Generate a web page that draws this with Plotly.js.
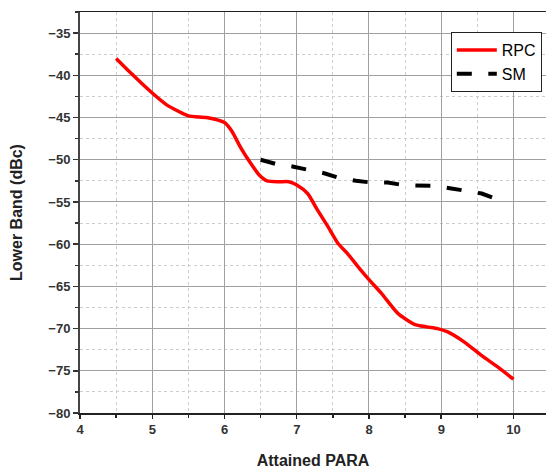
<!DOCTYPE html>
<html>
<head>
<meta charset="utf-8">
<script src="https://cdn.plot.ly/plotly-3.0.1.min.js"></script>
<style>html,body{margin:0;padding:0;background:#fff;}#chart{width:546px;height:469px;}</style>
</head>
<body>
<div id="chart"></div>
<script>
const rpcX = [4.5, 4.7, 5.0, 5.2, 5.5, 5.75, 6.0, 6.1, 6.22, 6.36, 6.48, 6.59, 6.75, 6.89, 7.0, 7.15, 7.29, 7.43, 7.57, 7.70, 7.89, 8.0, 8.17, 8.40, 8.63, 8.80, 8.95, 9.09, 9.32, 9.56, 9.79, 10.0];
const rpcY = [-38.0, -39.7, -42.1, -43.5, -44.8, -45.0, -45.6, -46.6, -48.5, -50.4, -51.8, -52.5, -52.6, -52.6, -53.0, -54.0, -56.0, -57.9, -59.9, -61.1, -63.1, -64.2, -65.8, -68.2, -69.5, -69.8, -70.0, -70.4, -71.6, -73.2, -74.6, -76.0];
const smX = [6.5, 6.71, 6.94, 7.15, 7.38, 7.57, 7.82, 8.03, 8.26, 8.47, 8.70, 8.91, 9.14, 9.35, 9.56, 9.78];
const smY = [-50.0, -50.5, -50.8, -51.2, -51.6, -52.1, -52.5, -52.7, -52.7, -53.0, -53.1, -53.1, -53.4, -53.7, -54.0, -54.7];
const seriesNames = ['RPC', 'SM'];
const xTitle = 'Attained PARA';
const yTitle = 'Lower Band (dBc)';

const tickFont = {family: 'Liberation Sans, Arial, sans-serif', size: 13, color: '#333', weight: 'bold'};
const traces = [
  {x: rpcX, y: rpcY, name: seriesNames[0], mode: 'lines', line: {color: '#ff0000', width: 3.5, shape: 'spline', smoothing: 0.6}},
  {x: smX, y: smY, name: seriesNames[1], mode: 'lines', line: {color: '#000000', width: 4, dash: '15px,16.5px'}}
];
const layout = {
  width: 546, height: 469,
  margin: {l: 80, r: 0, t: 12, b: 56},
  paper_bgcolor: '#fff', plot_bgcolor: '#fff',
  showlegend: true,
  legend: {x: 0.991, xanchor: 'right', y: 0.95, yanchor: 'top', bgcolor: '#fff', bordercolor: '#222', borderwidth: 1,
           font: {family: 'Liberation Sans, Arial, sans-serif', size: 16, color: '#000'}, tracegroupgap: 0, itemwidth: 40},
  xaxis: {
    range: [4, 10.45], tickvals: [4,5,6,7,8,9,10], ticktext: ['4','5','6','7','8','9','10'],
    showline: true, linecolor: '#222', linewidth: 1.5, mirror: true,
    ticks: 'outside', ticklen: 4, tickcolor: '#222', tickwidth: 1.5,
    showgrid: true, gridcolor: '#a0a0a0', gridwidth: 1,
    minor: {dtick: 0.5, showgrid: true, gridcolor: '#cccccc', griddash: '3px,3px', ticks: 'outside', ticklen: 3, tickcolor: '#222'},
    zeroline: false, tickfont: tickFont,
    title: {text: xTitle, font: {family: 'Liberation Sans, Arial, sans-serif', size: 16, color: '#222', weight: 'bold'}, standoff: 18}
  },
  yaxis: {
    range: [-80, -32.5], tickvals: [-80,-75,-70,-65,-60,-55,-50,-45,-40,-35],
    showline: true, linecolor: '#444', linewidth: 2,
    ticks: 'outside', ticklen: 5, tickcolor: '#333', tickwidth: 1.5,
    showgrid: true, gridcolor: '#a0a0a0', gridwidth: 1,
    minor: {dtick: 2.5, showgrid: true, gridcolor: '#cccccc', griddash: '3px,3px', ticks: 'outside', ticklen: 3, tickcolor: '#333'},
    zeroline: false, tickfont: tickFont,
    title: {text: yTitle, font: {family: 'Liberation Sans, Arial, sans-serif', size: 16, color: '#222', weight: 'bold'}, standoff: 22}
  }
};
Plotly.newPlot('chart', traces, layout, {displayModeBar: false, staticPlot: true});
</script>
</body>
</html>
